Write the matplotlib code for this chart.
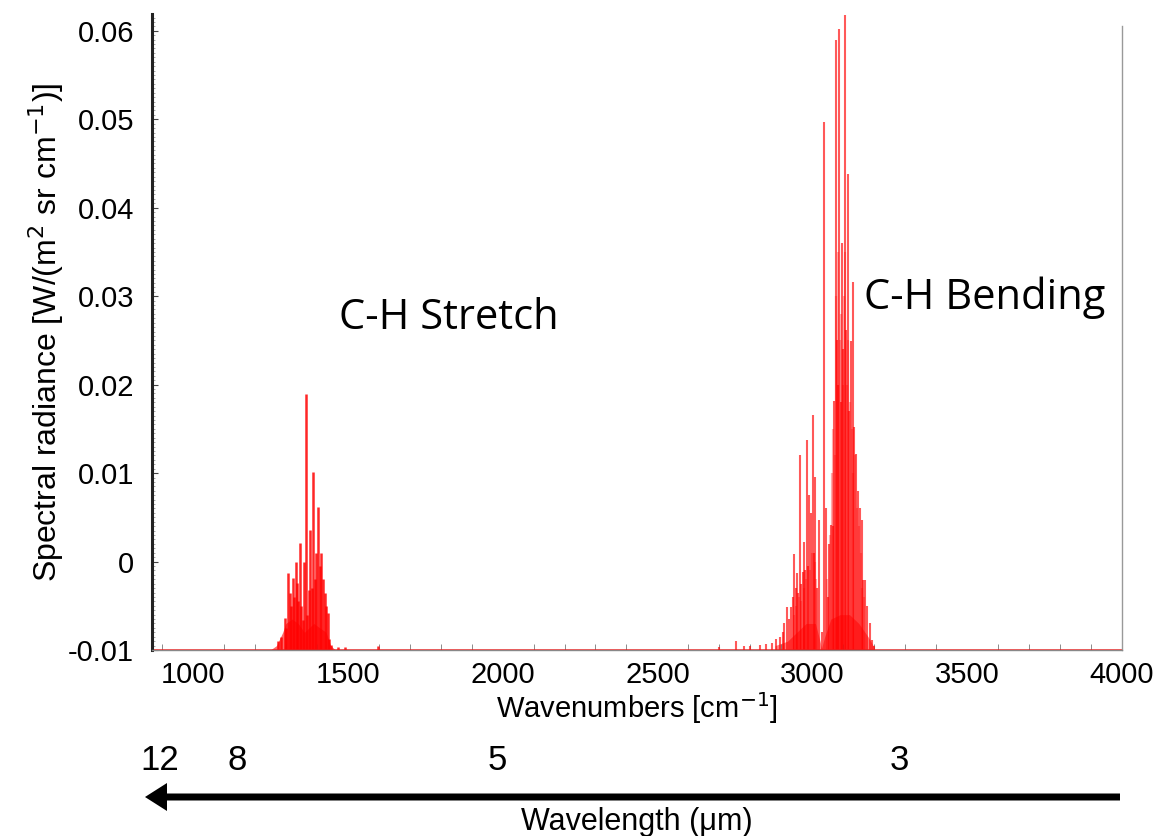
import matplotlib
matplotlib.use("Agg")
import matplotlib.pyplot as plt
from matplotlib.patches import FancyArrow
from matplotlib.transforms import IdentityTransform, blended_transform_factory
from matplotlib.ticker import MultipleLocator

# ---------------- data ----------------
baseline = -0.01

# C-H stretch band (line positions [cm-1], heights)
stretch_wn = [1275, 1286, 1297, 1302, 1308, 1313, 1318, 1324, 1328, 1332, 1336, 1340,
              1345, 1350, 1355, 1360, 1364, 1370, 1374, 1379, 1384, 1388, 1393, 1399,
              1404, 1409, 1414, 1420, 1425, 1430, 1435, 1440, 1447, 1470, 1490, 1597]
stretch_val = [-0.0090, -0.0085, -0.0064, -0.0075, -0.0013, -0.0036, -0.0050, -0.0019,
               -0.0040, 0.0000, -0.0024, -0.0045, 0.0021, -0.0050, -0.0066, 0.0000,
               0.0189, -0.0060, -0.0032, 0.0036, -0.0030, 0.0101, -0.0020, 0.0010,
               0.0062, -0.0005, 0.0010, -0.0020, -0.0036, -0.0050, -0.0058, -0.0088,
               -0.0094, -0.0097, -0.0097, -0.0095]

# C-H bending band
bend_wn = [2700, 2754, 2780, 2800, 2830, 2850, 2870, 2883, 2895, 2904, 2910, 2918,
           2925, 2931, 2937, 2942, 2946, 2950, 2955, 2960, 2965, 2969, 2974, 2978,
           2982, 2986, 2990, 2996, 3001, 3005, 3010, 3016, 3022, 3030, 3038, 3043,
           3050, 3055, 3060, 3066, 3071, 3076, 3080, 3084, 3087, 3092, 3096, 3100,
           3104, 3109, 3114, 3119, 3125, 3130, 3135, 3141, 3147, 3153, 3159, 3164,
           3171, 3178, 3186, 3194, 3200]
bend_val = [-0.0097, -0.0090, -0.0096, -0.0095, -0.0094, -0.0093, -0.0092, -0.0088,
            -0.0085, -0.0080, -0.0070, -0.0051, -0.0065, -0.0051, -0.0040, 0.0009,
            -0.0030, -0.0013, -0.0035, 0.0120, -0.0025, -0.0012, 0.0022, -0.0010,
            0.0137, -0.0005, 0.0075, 0.0055, 0.0166, 0.0010, 0.0096, -0.0030,
            0.0047, -0.0080, 0.0497, 0.0060, -0.0040, 0.0020, 0.0041, 0.0040,
            0.0182, 0.0590, 0.0250, 0.0200, 0.0602, 0.0180, 0.0360, 0.0240,
            0.0618, 0.0262, 0.0438, 0.0170, 0.0249, 0.0316, 0.0152, 0.0122,
            0.0080, 0.0060, 0.0047, -0.0021, -0.0021, -0.0050, -0.0070, -0.0089,
            -0.0095]

# weaker, densely packed lines inside the bending band
bend_weak_wn = [2940, 2948, 2957, 2963, 2972, 2980, 2993, 2999, 3008, 3013, 3046, 3058,
                3063, 3068, 3074, 3078, 3082, 3090, 3094, 3098, 3102, 3106, 3111, 3116,
                3122, 3127, 3132, 3138, 3144, 3150, 3156, 3162, 3168]
bend_weak_val = [-0.0060, -0.0050, -0.0040, -0.0045, -0.0030, -0.0020, -0.0010, 0.0010,
                 0.0000, -0.0020, -0.0020, 0.0030, 0.0100, 0.0150, 0.0120, 0.0300,
                 0.0350, 0.0250, 0.0280, 0.0200, 0.0300, 0.0350, 0.0200, 0.0250,
                 0.0180, 0.0150, 0.0100, 0.0120, 0.0060, 0.0040, 0.0010, -0.0030,
                 -0.0040]

# dense unresolved envelope of the bands
env1_wn = [1250, 1270, 1290, 1300, 1320, 1340, 1360, 1375, 1390, 1410, 1430, 1445, 1460]
env1_val = [-0.0100, -0.0095, -0.0080, -0.0070, -0.0065, -0.0070, -0.0080, -0.0075,
            -0.0070, -0.0075, -0.0080, -0.0095, -0.0100]
env2_wn = [2880, 2920, 2950, 2980, 3010, 3025, 3030, 3040, 3060, 3090, 3120, 3150, 3180, 3200]
env2_val = [-0.0095, -0.0090, -0.0080, -0.0070, -0.0070, -0.0090, -0.0098, -0.0085,
            -0.0065, -0.0060, -0.0060, -0.0070, -0.0085, -0.0097]

x_ticks = [1000, 1500, 2000, 2500, 3000, 3500, 4000]
y_ticks = [-0.01, 0, 0.01, 0.02, 0.03, 0.04, 0.05, 0.06]
y_ticklabels = ["-0.01", "0", "0.01", "0.02", "0.03", "0.04", "0.05", "0.06"]

wl_labels = ["12", "8", "5", "3"]
wl_pos_wn = [894, 1142, 1984, 3281]

# ---------------- figure ----------------
W, H = 1159, 836
fig = plt.figure(figsize=(W / 100, H / 100), dpi=100)
ax = fig.add_axes([152 / W, 1 - 650 / H, (1122 - 152) / W, (650 - 14) / H])

red = "#ff0000"
ax.fill_between(env1_wn, baseline, env1_val, color=red, alpha=0.6, lw=0)
ax.fill_between(env2_wn, baseline, env2_val, color=red, alpha=0.5, lw=0)
ax.vlines(stretch_wn, baseline, stretch_val, color=red, lw=1.8, alpha=0.85)
ax.vlines(bend_weak_wn, baseline, bend_weak_val, color=red, lw=1.6, alpha=0.3)
ax.vlines(bend_wn, baseline, bend_val, color=red, lw=1.5, alpha=0.65)
ax.axhline(baseline, color=red, lw=1.2, alpha=0.8)

ax.set_xlim(868, 4000)
ax.set_ylim(-0.01, 0.0619)

font = "Liberation Sans"
ax.set_xticks(x_ticks)
ax.set_xticklabels([str(t) for t in x_ticks], fontsize=21, family=font)
ax.set_yticks(y_ticks)
ax.set_yticklabels(y_ticklabels, fontsize=21, family=font)
ax.xaxis.set_minor_locator(MultipleLocator(100))
ax.yaxis.set_minor_locator(MultipleLocator(0.0005))
ax.tick_params(axis="x", which="major", direction="in", length=0, pad=8)
ax.tick_params(axis="y", which="major", direction="in", length=4, pad=13, color="#444444")
ax.tick_params(axis="x", which="minor", direction="in", length=4, color="#777777")
ax.tick_params(axis="y", which="minor", direction="in", length=2, color="#999999")

ax.spines["top"].set_visible(False)
ax.spines["right"].set_color("#999999")
ax.spines["right"].set_linewidth(1.0)
ax.spines["right"].set_bounds(-0.01, 0.0605)
ax.spines["left"].set_color("#222222")
ax.spines["left"].set_linewidth(2.2)
ax.spines["bottom"].set_color("#888888")
ax.spines["bottom"].set_linewidth(1.0)

ax.set_ylabel(r"Spectral radiance [W/(m$^2$ sr cm$^{-1}$)]", fontsize=23, family=font)
ax.yaxis.set_label_coords(-0.089, 0.5)
ax.set_xlabel(r"Wavenumbers [cm$^{-1}$]", fontsize=21, family=font, labelpad=1)

ax.text(1826, 0.0275, "C-H Stretch", fontsize=30, family="Open Sans", ha="center", va="center")
ax.text(3558, 0.0298, "C-H Bending", fontsize=30, family="Open Sans", ha="center", va="center")

# wavelength scale below
trans = blended_transform_factory(ax.transData, fig.transFigure)
for lab, xw in zip(wl_labels, wl_pos_wn):
    ax.text(xw, 1 - 760 / H, lab, transform=trans, fontsize=25, family=font,
            ha="center", va="center", clip_on=False)

arrow = FancyArrow(1120, H - 797, -(1120 - 145), 0, width=7, head_width=28,
                   head_length=22, length_includes_head=True, color="black",
                   lw=0, transform=IdentityTransform())
fig.add_artist(arrow)
fig.text(637 / W, 1 - 822 / H, "Wavelength (\u03bcm)", fontsize=22, family=font,
         ha="center", va="center")

fig.savefig("out.png", dpi=100)
